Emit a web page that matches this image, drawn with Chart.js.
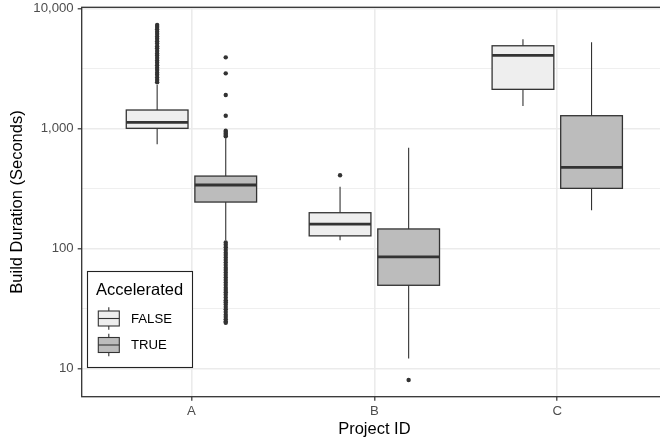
<!DOCTYPE html>
<html>
<head>
<meta charset="utf-8">
<script src="https://cdn.jsdelivr.net/npm/chart.js@4.4.1/dist/chart.umd.min.js"></script>
<style>
  html, body { margin: 0; padding: 0; background: #fff; overflow: hidden; }
  #chart { display: block; }
</style>
</head>
<body>
<!-- the panel runs a few px past the right edge, as in the reference -->
<canvas id="chart" width="671" height="442"></canvas>
<script>
// Data
const categories = ["A", "B", "C"];
const groups = ["FALSE", "TRUE"];

// five-number summaries, one value per project
const falseLower = [736, 117, 1535];
const falseQ1 = [1000, 127, 2113];
const falseMedian = [1122, 159, 4058];
const falseQ3 = [1421, 198, 4875];
const falseUpper = [2296, 326, 5520];

const trueLower = [117, 12.1, 208];
const trueQ1 = [243, 49.2, 316];
const trueMedian = [337, 85, 473];
const trueQ3 = [400, 145, 1274];
const trueUpper = [826, 689, 5210];

// outliers per project
const falseOutliersA = [2420, 2530, 2650, 2790, 2910, 3060, 3190, 3350, 3520, 3670, 3850, 4040, 4210, 4420, 4640, 4840, 5090, 5310, 5580, 5820, 6120, 6390, 6700, 6980, 7260];
const falseOutliersB = [406];
const falseOutliersC = [];
const trueOutliersA = [3905, 2872, 1897, 1273, 955, 930, 905, 880, 860,
  112, 107, 102, 97, 92, 88, 84, 80, 76, 72.5, 69, 66, 63, 60, 57, 54.5, 52, 49.5, 47, 45, 43, 41, 39, 37, 35.5, 34, 32.5, 31, 29.5, 28, 26.8, 25.6, 24.5, 24];
const trueOutliersB = [8.0];
const trueOutliersC = [];

// axis ticks
const yTickValues = [10, 100, 1000, 10000];
const yTickLabels = ["10", "100", "1,000", "10,000"];
const yMinorValues = [31.62, 316.2, 3162];

// styles
const fillColors = ["#eeeeee", "#bcbcbc"];
const inkColor = "#333333";
const gridColor = "#ebebeb";
const dodge = 0.1875;
const boxHalf = 0.16875;
const fontFamily = '"Liberation Sans", Arial, sans-serif';

const boxSeries = [
  { lower: falseLower, q1: falseQ1, median: falseMedian, q3: falseQ3, upper: falseUpper, outliers: [falseOutliersA, falseOutliersB, falseOutliersC] },
  { lower: trueLower, q1: trueQ1, median: trueMedian, q3: trueQ3, upper: trueUpper, outliers: [trueOutliersA, trueOutliersB, trueOutliersC] },
];

function groupOffset(g) {
  return g === 0 ? -dodge : dodge;
}

// outlier points as scatter datasets
const outlierDatasets = boxSeries.map((s, g) => ({
  label: groups[g],
  data: s.outliers.flatMap((vals, i) => vals.map((v) => ({ x: i + 1 + groupOffset(g), y: v }))),
  pointRadius: 2.2,
  pointBorderWidth: 0,
  pointBackgroundColor: inkColor,
  showLine: false,
}));

// draw boxes and whiskers with the chart scales
const boxPlugin = {
  id: "boxes",
  afterDatasetsDraw(chart) {
    const ctx = chart.ctx;
    const x = chart.scales.x;
    const y = chart.scales.y;
    ctx.save();
    boxSeries.forEach((s, g) => {
      categories.forEach((c, i) => {
        const center = i + 1 + groupOffset(g);
        const mid = x.getPixelForValue(center);
        const left = x.getPixelForValue(center - boxHalf);
        const right = x.getPixelForValue(center + boxHalf);
        const yLow = y.getPixelForValue(s.lower[i]);
        const yQ1 = y.getPixelForValue(s.q1[i]);
        const yMed = y.getPixelForValue(s.median[i]);
        const yQ3 = y.getPixelForValue(s.q3[i]);
        const yUp = y.getPixelForValue(s.upper[i]);

        ctx.strokeStyle = inkColor;
        ctx.lineWidth = 1.1;
        ctx.beginPath();
        ctx.moveTo(mid, yQ3);
        ctx.lineTo(mid, yUp);
        ctx.moveTo(mid, yQ1);
        ctx.lineTo(mid, yLow);
        ctx.stroke();

        ctx.fillStyle = fillColors[g];
        ctx.fillRect(left, yQ3, right - left, yQ1 - yQ3);
        ctx.lineWidth = 1.3;
        ctx.strokeRect(left, yQ3, right - left, yQ1 - yQ3);

        ctx.lineWidth = 2.8;
        ctx.beginPath();
        ctx.moveTo(left, yMed);
        ctx.lineTo(right, yMed);
        ctx.stroke();
      });
    });
    ctx.restore();
  },
  afterDraw(chart) {
    const ctx = chart.ctx;
    const a = chart.chartArea;
    ctx.save();
    // panel border
    ctx.strokeStyle = inkColor;
    ctx.lineWidth = 1.3;
    ctx.strokeRect(a.left, a.top, a.right - a.left, a.bottom - a.top);

    // legend
    ctx.fillStyle = "#ffffff";
    ctx.fillRect(87.5, 271.5, 105, 96);
    ctx.strokeStyle = "#222222";
    ctx.lineWidth = 1.1;
    ctx.strokeRect(87.5, 271.5, 105, 96);
    ctx.fillStyle = "#000000";
    ctx.font = "16.5px " + fontFamily;
    ctx.textBaseline = "alphabetic";
    ctx.fillText("Accelerated", 96, 295);

    groups.forEach((label, g) => {
      const cy = 318.5 + g * 26.5;
      ctx.strokeStyle = inkColor;
      ctx.lineWidth = 1.1;
      ctx.beginPath();
      ctx.moveTo(108.8, cy - 11.2);
      ctx.lineTo(108.8, cy - 7.5);
      ctx.moveTo(108.8, cy + 7.5);
      ctx.lineTo(108.8, cy + 11.2);
      ctx.stroke();
      ctx.fillStyle = fillColors[g];
      ctx.fillRect(98.3, cy - 7.5, 21, 15);
      ctx.strokeRect(98.3, cy - 7.5, 21, 15);
      ctx.beginPath();
      ctx.moveTo(98.3, cy);
      ctx.lineTo(119.3, cy);
      ctx.stroke();

      ctx.fillStyle = "#000000";
      ctx.font = "13.2px " + fontFamily;
      ctx.textBaseline = "middle";
      ctx.fillText(label, 131, cy + 0.5);
    });
    ctx.restore();
  },
};

const chart = new Chart(document.getElementById("chart"), {
  type: "scatter",
  data: { datasets: outlierDatasets },
  plugins: [boxPlugin],
  options: {
    responsive: false,
    animation: false,
    devicePixelRatio: 1,
    layout: { padding: { left: 0, top: 7.3, right: 0, bottom: 0 } },
    plugins: { legend: { display: false }, tooltip: { enabled: false } },
    scales: {
      x: {
        type: "linear",
        min: 0.4,
        max: 3.6,
        afterBuildTicks(scale) {
          scale.ticks = categories.map((c, i) => ({ value: i + 1 }));
        },
        afterFit(scale) {
          scale.height = 45.3;
        },
        ticks: {
          callback: (v) => categories[v - 1],
          color: "#4d4d4d",
          font: { family: fontFamily, size: 13.2 },
          padding: 3,
          maxRotation: 0,
          autoSkip: false,
        },
        grid: { color: gridColor, lineWidth: 1.6, tickLength: 4, tickColor: inkColor, tickWidth: 1.2 },
        border: { display: false },
        title: {
          display: true,
          text: "Project ID",
          color: "#000000",
          font: { family: fontFamily, size: 16.5 },
          padding: { top: 0, bottom: 3 },
        },
      },
      y: {
        type: "logarithmic",
        min: 5.8,
        max: 10200,
        afterBuildTicks(scale) {
          scale.ticks = yTickValues.concat(yMinorValues).sort((p, q) => p - q).map((v) => ({ value: v }));
        },
        afterFit(scale) {
          scale.width = 81.7;
        },
        ticks: {
          callback: (v) => {
            const i = yTickValues.indexOf(v);
            return i >= 0 ? yTickLabels[i] : "";
          },
          color: "#4d4d4d",
          // small lineHeight keeps the top label from pushing the panel down
          font: { family: fontFamily, size: 13.2, lineHeight: 0.5 },
          padding: 4,
          autoSkip: false,
        },
        grid: {
          color: gridColor,
          lineWidth: (c) => (yTickValues.includes(c.tick.value) ? 1.6 : 0.8),
          tickLength: 4,
          tickColor: (c) => (yTickValues.includes(c.tick.value) ? inkColor : "rgba(0,0,0,0)"),
          tickWidth: 1.2,
        },
        border: { display: false },
        title: {
          display: true,
          text: "Build Duration (Seconds)",
          color: "#000000",
          font: { family: fontFamily, size: 16.5 },
          padding: { top: 8, bottom: 0 },
        },
      },
    },
  },
});
</script>
</body>
</html>
